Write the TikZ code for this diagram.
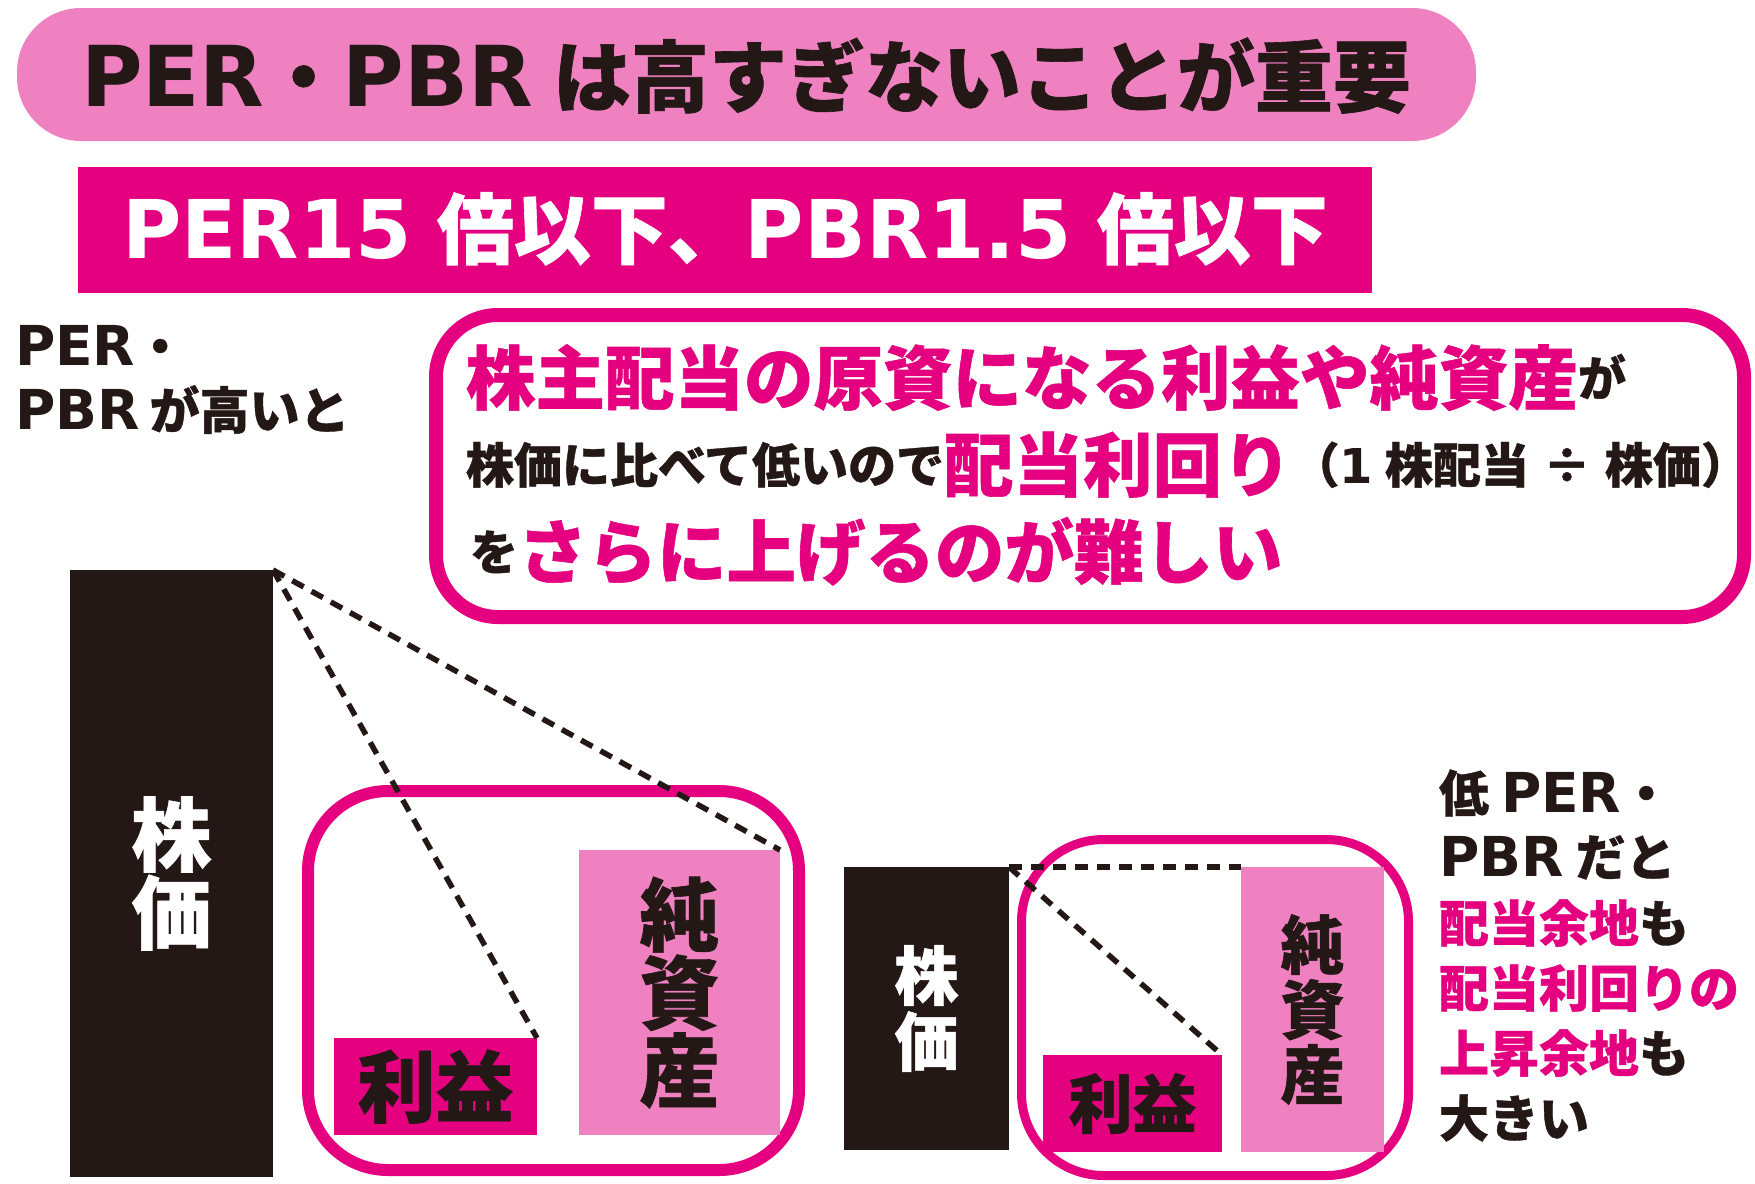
\documentclass[tikz,border=0pt]{standalone}
\usepackage{fontspec}
\setmainfont{Noto Sans CJK JP}[BoldFeatures={FakeBold=0.8}]
\newfontfamily\latf{DejaVu Sans}
\newcommand\JA{\normalfont\bfseries}
\newcommand\LA{\latf\bfseries}
\newcommand\fs[1]{\fontsize{#1}{#1}\selectfont}
\newcommand\up[1]{\raisebox{8pt}{#1}}
\definecolor{mag}{HTML}{E4007F}
\definecolor{pinkc}{HTML}{F081C0}
\definecolor{ink}{HTML}{231815}
\begin{document}
\begin{tikzpicture}[x=1pt,y=-1pt,
  every node/.style={inner sep=0pt, outer sep=0pt},
  dotline/.style={draw=ink, line width=5.5pt, dash pattern=on 13pt off 9pt},
  barbox/.style={fill=ink, text=white, align=center},
  riekibox/.style={fill=mag, text=ink, align=center},
  junbox/.style={fill=pinkc, text=ink, align=center},
  frame/.style={draw=mag}]
\useasboundingbox (0,0) rectangle (1755,1183);

% header pill
\node[fill=pinkc, rounded corners=64pt, minimum width=1459pt, minimum height=133pt] (pill) at (746.5,74.5) {};
\node[anchor=base, text=ink] (title) at (746,106)
  {{\fs{84}\LA PER}{\fs{78}\JA ・}{\fs{84}\LA PBR}\hspace{20pt}{\fs{78}\JA は高すぎないことが重要}};

% magenta banner
\node[fill=mag, minimum width=1294pt, minimum height=126pt] (banner) at (725,230) {};
\node[anchor=base, text=white] (bantext) at (725,258)
  {{\fs{81}\LA PER15}\hspace{25pt}{\fs{77}\JA 倍以下、}{\fs{81}\LA PBR1.5}\hspace{25pt}{\fs{77}\JA 倍以下}};

% left label
\node[anchor=base west, text=ink] (l1) at (15,365) {{\fs{55}\LA PER}{\fs{50}\JA ・}};
\node[anchor=base west, text=ink] (l2) at (15,429) {{\fs{55}\LA PBR}\hspace{10pt}{\fs{50}\JA が高いと}};

% callout
\node[frame, line width=14pt, rounded corners=62pt, minimum width=1308pt, minimum height=302pt] (callout) at (1090,466) {};
\node[anchor=base west, text=ink] (c1) at (466,404)
  {\JA{\color{mag}\fs{69.5}株主配当の原資になる利益や純資産}\up{\fs{48}が}};
\node[anchor=base west, text=ink] (c2) at (466,491)
  {\JA\up{\fs{48}株価に比べて低いので}{\color{mag}\fs{69.5}配当利回り}\up{\fs{48}（{\LA 1}\hspace{12pt}株配当\hspace{14pt}÷\hspace{14pt}株価）}};
\node[anchor=base west, text=ink] (c3) at (470,578)
  {\JA\up{\fs{48}を}{\color{mag}\fs{69.5}さらに上げるのが難しい}};

% left (high PER/PBR) diagram
\node[barbox, minimum width=203pt, minimum height=607pt, font=\JA\fontsize{80}{78}\selectfont] (bar1) at (171.5,873.5) {株\\価};
\node[frame, line width=12pt, rounded corners=80pt, minimum width=491pt, minimum height=379pt] (box1) at (553.5,980.5) {};
\node[riekibox, minimum width=203pt, minimum height=97pt, font=\JA\fs{78}] (rieki1) at (435.5,1086.5) {利益};
\node[junbox, minimum width=201pt, minimum height=285pt, font=\JA\fontsize{80}{78}\selectfont] (jun1) at (679.5,992.5) {純\\資\\産};

% right (low PER/PBR) diagram
\node[barbox, minimum width=165pt, minimum height=283pt, font=\JA\fontsize{64}{66}\selectfont] (bar2) at (926.5,1008.5) {株\\価};
\node[frame, line width=9pt, rounded corners=82pt, minimum width=387pt, minimum height=336pt] (box2) at (1215,1007.5) {};
\node[riekibox, minimum width=179pt, minimum height=97pt, font=\JA\fs{64}] (rieki2) at (1132.5,1103.5) {利益};
\node[junbox, minimum width=143pt, minimum height=285pt, font=\JA\fontsize{64}{65}\selectfont] (jun2) at (1312.5,1009.5) {純\\資\\産};

% right text
\node[anchor=base west, text=ink] (r1) at (1439,812) {{\fs{50}\JA 低}\hspace{12pt}{\fs{55}\LA PER}{\fs{50}\JA ・}};
\node[anchor=base west, text=ink] (r2) at (1439,876) {{\fs{55}\LA PBR}\hspace{12pt}{\fs{50}\JA だと}};
\node[anchor=base west, text=ink] (r3) at (1439,942) {\fs{50}\JA{\color{mag}配当余地}も};
\node[anchor=base west, text=mag] (r4) at (1439,1007) {\fs{50}\JA 配当利回りの};
\node[anchor=base west, text=ink] (r5) at (1439,1072) {\fs{50}\JA{\color{mag}上昇余地}も};
\node[anchor=base west, text=ink] (r6) at (1439,1137) {\fs{50}\JA 大きい};

% dotted guides
\draw[dotline] (bar1.north east) -- (rieki1.north east);
\draw[dotline] (bar1.north east) -- (jun1.north east);
\draw[dotline] (bar2.north east) -- (jun2.north west);
\draw[dotline] (bar2.north east) -- (rieki2.north east);
\end{tikzpicture}
\end{document}
